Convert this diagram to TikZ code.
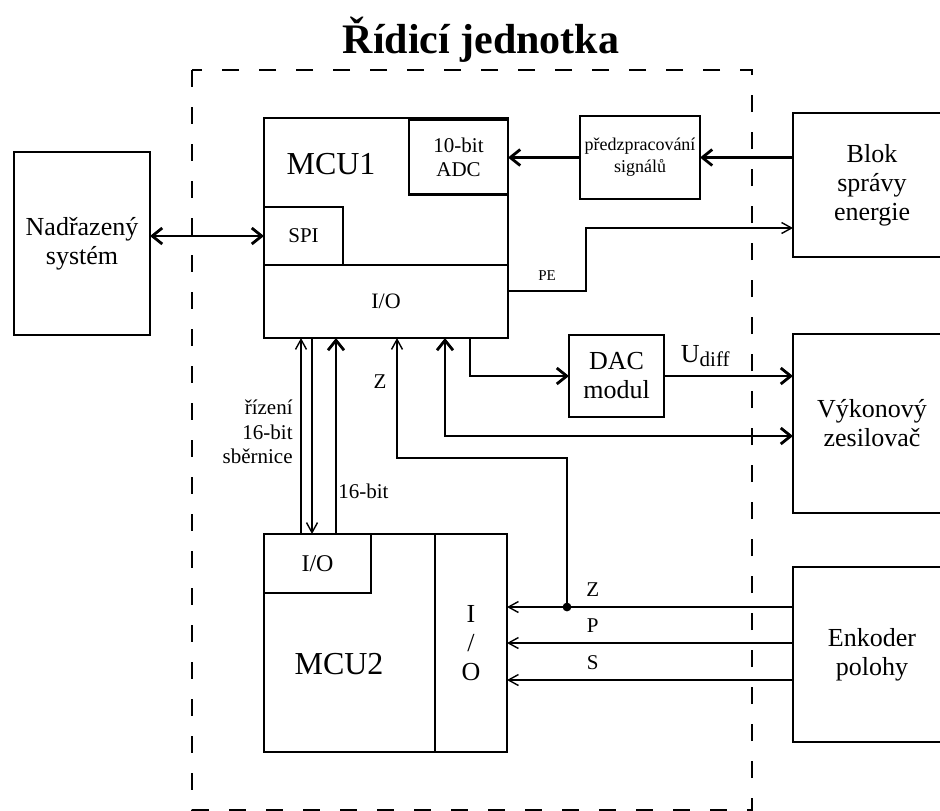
\documentclass[tikz,border=0pt]{standalone}
\usepackage{fontspec}
\setmainfont{Liberation Serif}
\usetikzlibrary{arrows.meta, positioning}

\begin{document}
\begin{tikzpicture}[x=0.5pt, y=-0.5pt,
    block/.style={draw, line width=1.4pt, inner sep=0pt, outer sep=0pt, align=center, font=\fontsize{13}{14.5}\selectfont},
    txt/.style={inner sep=0pt, align=center, font=\fontsize{10.5}{12.25}\selectfont},
    frame/.style={line width=1.4pt, dash pattern=on 8.5pt off 10pt},
    thickarrow/.style={line width=1.4pt, -{Straight Barb[length=5pt, width=8pt]}},
    thickboth/.style={line width=1.4pt, {Straight Barb[length=5pt, width=8pt]}-{Straight Barb[length=5pt, width=8pt]}},
    thinarrow/.style={line width=0.7pt, -{Straight Barb[length=5pt, width=5.5pt]}}
]
\useasboundingbox (0,0) rectangle (940,810);

\node[txt, anchor=base, font=\bfseries\fontsize{21}{25}\selectfont] (title) at (481,53) {Řídicí jednotka};
\draw[frame] (192,70) rectangle (752,810);

\node[block, minimum width=68pt, minimum height=91.5pt] (nad) at (82,243.5) {Nadřazený\\systém};
\node[block, minimum width=122pt, minimum height=110pt] (mcu1) at (386,228) {};
\node[block, minimum width=122pt, minimum height=36.5pt, font=\fontsize{11}{13}\selectfont] (io1) at (386,301.5) {I/O};
\node[block, minimum width=39.5pt, minimum height=29pt, font=\fontsize{10.5}{12}\selectfont] (spi) at (303.5,236) {SPI};
\node[block, minimum width=49.5pt, minimum height=37.5pt, font=\fontsize{10.5}{12}\selectfont] (adc) at (458.5,157) {10-bit\\ADC};
\node[txt, anchor=base, font=\fontsize{16}{18}\selectfont] (mcu1lab) at (331,174) {MCU1};
\node[block, minimum width=60pt, minimum height=41.5pt, font=\fontsize{9}{11}\selectfont] (prep) at (640,157.5) {předzpracování\\signálů};
\node[block, minimum width=47.5pt, minimum height=41pt] (dac) at (616.5,376) {DAC\\modul};

\node[block, minimum width=79pt, minimum height=72pt] (blok) at (872,185) {Blok\\správy\\energie};
\node[block, minimum width=79pt, minimum height=89.5pt] (vyk) at (872,423.5) {Výkonový\\zesilovač};
\node[block, minimum width=79pt, minimum height=87.5pt] (enk) at (872,654.5) {Enkoder\\polohy};

\node[block, minimum width=121.5pt, minimum height=109pt] (mcu2) at (385.5,643) {};
\node[block, minimum width=53.5pt, minimum height=29.5pt, font=\fontsize{12}{14}\selectfont] (io2a) at (317.5,563.5) {I/O};
\node[block, minimum width=36pt, minimum height=109pt] (io2b) at (471,643) {I\\/\\O};
\node[txt, anchor=base, font=\fontsize{16}{18}\selectfont] (mcu2lab) at (339,674) {MCU2};

\draw[thickboth] (nad.east |- spi.west) -- (spi.west);
\draw[thickarrow] (blok.west |- prep.east) -- (prep.east);
\draw[thickarrow] (prep.west) -- (prep.west -| adc.east);
\draw[thinarrow] (io1.east |- 0,291) -- (586,291) node[txt, midway, above=5pt, font=\fontsize{7.5}{9}\selectfont] {PE} |- (blok.west |- 0,228);
\draw[thickarrow] (io1.south -| 470,0) |- (dac.west);
\draw[thickarrow] (dac.east) -- (dac.east -| vyk.west) node[txt, pos=0.32, above=4pt, font=\fontsize{13}{15}\selectfont] {U\raisebox{-0.35ex}{\fontsize{10.5}{12}\selectfont diff}};
\draw[thickboth] (io1.south -| 445,0) |- (vyk.west |- 0,436);

\coordinate (zjoin) at (567,607);
\coordinate (zbend) at (397,458);
\draw[thinarrow] (zjoin) |- (zbend) -- (io1.south -| zbend);
\node[txt, anchor=base] (zup) at (380,388) {Z};
\draw[thinarrow] (enk.west |- zjoin) -- (io2b.east |- zjoin) node[txt, pos=0.7, above=5pt] {Z};
\draw[thinarrow] (enk.west |- 0,643) -- (io2b.east |- 0,643) node[txt, pos=0.7, above=5pt] {P};
\draw[thinarrow] (enk.west |- 0,680) -- (io2b.east |- 0,680) node[txt, pos=0.7, above=5pt] {S};
\fill (zjoin) circle (2.2pt);

\draw[thinarrow] (io2a.north -| 301,0) -- (io1.south -| 301,0);
\draw[thinarrow] (io1.south -| 312,0) -- (io2a.north -| 312,0);
\draw[thickarrow] (io2a.north -| 336,0) -- (io1.south -| 336,0);
\node[txt, anchor=east, align=right] (ctrl) at (293,432) {řízení\\16-bit\\sběrnice};
\node[txt, anchor=base west] (bus) at (338,498) {16-bit};
\end{tikzpicture}
\end{document}
